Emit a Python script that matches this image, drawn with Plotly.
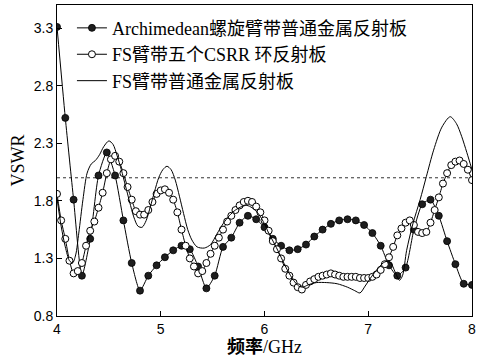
import plotly.graph_objects as go

# Archimedean spiral arms over a plain metal reflector (0.08 GHz step)
freq_arch = [round(4.0 + 0.08 * i, 2) for i in range(51)]
vswr_arch = [3.31, 2.52, 1.81, 1.15, 1.47, 2.02, 2.22, 2.02, 1.63, 1.26,
             1.02, 1.15, 1.24, 1.31, 1.37, 1.41, 1.38, 1.23, 1.04, 1.15,
             1.40, 1.48, 1.61, 1.67, 1.64, 1.57, 1.47, 1.41, 1.37, 1.38,
             1.42, 1.49, 1.55, 1.60, 1.63, 1.64, 1.63, 1.59, 1.52, 1.41,
             1.24, 1.15, 1.22, 1.55, 1.77, 1.81, 1.67, 1.45, 1.25, 1.08,
             1.07]

# FS arms with a five-ring CSRR reflector (0.04 GHz step)
freq_csrr = [round(4.0 + 0.04 * i, 2) for i in range(101)]
vswr_csrr = [1.86, 1.63, 1.47, 1.28, 1.17, 1.19, 1.26, 1.41, 1.54, 1.62,
             1.74, 1.87, 2.04, 2.16, 2.19, 2.14, 2.04, 1.92, 1.81, 1.71,
             1.68, 1.68, 1.72, 1.79, 1.86, 1.89, 1.90, 1.87, 1.81, 1.70,
             1.55, 1.41, 1.30, 1.23, 1.17, 1.19, 1.26, 1.34, 1.41, 1.48,
             1.55, 1.62, 1.67, 1.72, 1.76, 1.79, 1.80, 1.79, 1.75, 1.70,
             1.63, 1.54, 1.45, 1.38, 1.30, 1.21, 1.15, 1.09, 1.05, 1.03,
             1.07, 1.10, 1.12, 1.14, 1.15, 1.16, 1.17, 1.16, 1.15, 1.14,
             1.14, 1.14, 1.14, 1.13, 1.13, 1.13, 1.14, 1.16, 1.20, 1.25,
             1.31, 1.40, 1.50, 1.56, 1.61, 1.63, 1.59, 1.53, 1.52, 1.53,
             1.61, 1.72, 1.83, 1.95, 2.04, 2.11, 2.14, 2.15, 2.12, 2.07,
             1.98]

# FS arms over a plain metal reflector (continuous curve)
freq_fs = [4.00, 4.04, 4.08, 4.12, 4.15, 4.18, 4.21, 4.25, 4.29, 4.33,
           4.37, 4.41, 4.45, 4.50, 4.54, 4.58, 4.62, 4.66, 4.70, 4.74,
           4.78, 4.82, 4.86, 4.90, 4.94, 4.98, 5.02, 5.06, 5.10, 5.14,
           5.18, 5.22, 5.26, 5.30, 5.35, 5.42, 5.48, 5.54, 5.60, 5.66,
           5.72, 5.78, 5.83, 5.88, 5.94, 6.00, 6.04, 6.10, 6.16, 6.22,
           6.28, 6.33, 6.37, 6.42, 6.50, 6.60, 6.70, 6.80, 6.87, 6.92,
           6.97, 7.03, 7.10, 7.16, 7.21, 7.26, 7.30, 7.33, 7.37, 7.43,
           7.50, 7.56, 7.63, 7.71, 7.79, 7.85, 7.90, 7.95, 8.00]
vswr_fs = [1.82, 1.58, 1.40, 1.28, 1.26, 1.33, 1.52, 1.81, 2.04, 2.12,
           2.15, 2.20, 2.27, 2.32, 2.29, 2.19, 2.07, 1.93, 1.79, 1.66,
           1.58, 1.57, 1.63, 1.75, 1.88, 2.00, 2.07, 2.10, 2.07, 1.98,
           1.84, 1.69, 1.55, 1.46, 1.40, 1.39, 1.42, 1.51, 1.60, 1.67,
           1.72, 1.75, 1.76, 1.74, 1.69, 1.60, 1.52, 1.42, 1.31, 1.20,
           1.11, 1.06, 1.05, 1.07, 1.09, 1.09, 1.08, 1.05, 1.02, 1.00,
           1.06, 1.14, 1.22, 1.27, 1.27, 1.18, 1.11, 1.15, 1.37, 1.60,
           1.81, 2.01, 2.24, 2.44, 2.53, 2.47, 2.36, 2.22, 2.07]

# VSWR = 2 reference level
VSWR_LIMIT = 2.0

x_ticks = [4, 5, 6, 7, 8]
y_ticks = [0.8, 1.3, 1.8, 2.3, 2.8, 3.3]

serif = "Liberation Serif, Noto Sans CJK SC, serif"
sans = "Liberation Sans, Arial, sans-serif"

fig = go.Figure()

fig.add_trace(go.Scatter(
    x=freq_arch, y=vswr_arch, mode="lines+markers",
    name="Archimedean螺旋臂带普通金属反射板",
    line=dict(color="black", width=1, shape="spline", smoothing=0.6),
    marker=dict(symbol="circle", size=7, color="#1e1e1e",
                line=dict(color="black", width=0.8)),
))
fig.add_trace(go.Scatter(
    x=freq_csrr, y=vswr_csrr, mode="lines+markers",
    name="FS臂带五个CSRR 环反射板",
    line=dict(color="black", width=1, shape="spline", smoothing=0.6),
    marker=dict(symbol="circle", size=7, color="white",
                line=dict(color="black", width=1)),
))
fig.add_trace(go.Scatter(
    x=freq_fs, y=vswr_fs, mode="lines",
    name="FS臂带普通金属反射板",
    line=dict(color="black", width=1, shape="spline", smoothing=0.8),
))

fig.add_shape(type="line", xref="paper", yref="y", x0=0, x1=1,
              y0=VSWR_LIMIT, y1=VSWR_LIMIT,
              line=dict(color="#333333", width=1, dash="dot"), layer="below")

fig.update_layout(
    width=486, height=361,
    margin=dict(l=57, r=14, t=5, b=45),
    paper_bgcolor="white", plot_bgcolor="white",
    showlegend=True,
    legend=dict(x=0.036, y=0.985, xanchor="left", yanchor="top",
                bgcolor="rgba(0,0,0,0)", borderwidth=0,
                font=dict(family=serif, size=18, color="black"),
                itemwidth=30, tracegroupgap=0),
    font=dict(family=sans, color="black"),
)

fig.update_xaxes(
    range=[4, 8], tickvals=x_ticks, ticktext=[str(v) for v in x_ticks],
    ticks="inside", ticklen=5, tickcolor="black",
    showline=True, linecolor="black", linewidth=1, mirror=True,
    showgrid=False, zeroline=False,
    tickfont=dict(family=sans, size=14, color="black"),
    title=dict(text="<b>频率</b>/GHz", font=dict(family=serif, size=18, color="black"),
               standoff=2),
)
fig.update_yaxes(
    range=[0.8, 3.5], tickvals=y_ticks, ticktext=[f"{v:.1f}" for v in y_ticks],
    ticks="inside", ticklen=5, tickcolor="black",
    showline=True, linecolor="black", linewidth=1, mirror=True,
    showgrid=False, zeroline=False,
    tickfont=dict(family=sans, size=14, color="black"),
    title=dict(text="VSWR", font=dict(family=serif, size=18, color="black"),
               standoff=4),
)

fig.write_html("out.html")
